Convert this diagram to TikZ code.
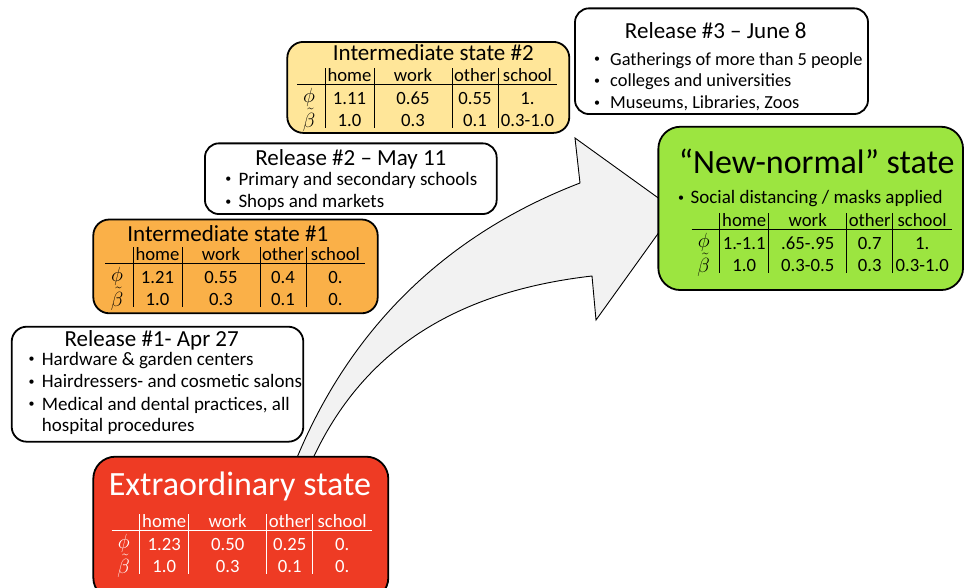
\RequirePackage{fix-cm}
\documentclass[tikz,border=0pt]{standalone}
\usepackage[no-math]{fontspec}
\setmainfont{Carlito}
\definecolor{yel}{RGB}{255,230,153}
\definecolor{org}{RGB}{250,176,72}
\definecolor{redb}{RGB}{238,59,36}
\definecolor{grn}{RGB}{156,229,64}
\definecolor{arr}{RGB}{242,242,242}
\tikzset{
  box/.style={draw=black, line width=1.8pt, inner sep=0pt, rectangle},
  ttl/.style={font=\fontsize{23}{27}\selectfont, inner sep=0pt, anchor=base},
  bigttl/.style={font=\fontsize{34}{40}\selectfont, inner sep=0pt, anchor=base},
  btxt/.style={font=\fontsize{19}{22}\selectfont, inner sep=0pt, anchor=base west},
  bdot/.style={font=\fontsize{12}{14}\selectfont, inner sep=0pt, anchor=base},
  cell/.style={font=\fontsize{18.7}{22}\selectfont, inner sep=0pt, anchor=base},
  sym/.style={font=\fontsize{20.5}{24}\selectfont, inner sep=0pt, anchor=base},
  tabrule/.style={line width=0.9pt},
  arrowshape/.style={draw=black, fill=arr, line width=0.9pt, line join=miter},
  pics/statetab/.style n args={8}{code={
    \node[cell] (-h1) at (52.5,-3) {home};
    \node[cell] (-h2) at (116,-3) {work};
    \node[cell] (-h3) at (178,-3) {other};
    \node[cell] (-h4) at (230.5,-3) {school};
    \node[sym] (-sp) at (12,18.5) {$\phi$};
    \node[sym] (-sb) at (12,43) {$\tilde\beta$};
    \node[cell] (-p1) at (52.5,20) {#1};
    \node[cell] (-p2) at (116,20) {#2};
    \node[cell] (-p3) at (178,20) {#3};
    \node[cell] (-p4) at (230.5,20) {#4};
    \node[cell] (-b1) at (52.5,42.3) {#5};
    \node[cell] (-b2) at (116,42.3) {#6};
    \node[cell] (-b3) at (178,42.3) {#7};
    \node[cell] (-b4) at (230.5,42.3) {#8};
    \draw[tabrule] (0,0) -- (260,0);
    \foreach \vx in {28,77,155,201} \draw[tabrule] (\vx,-16) -- (\vx,44);
  }}
}
\newcommand{\bul}{\raisebox{2.2pt}{•}}
\begin{document}
\begin{tikzpicture}[x=1pt,y=-1pt]
\useasboundingbox (0,0) rectangle (964,587);

% big curved arrow (behind everything)
\draw[arrowshape] (294,465) .. controls (350,325) and (450,233) .. (580,183)
  -- (575,138) -- (675,210) -- (596,320) -- (592,276)
  .. controls (470,290) and (365,340) .. (310,465) -- cycle;

% boxes
\node[box, fill=yel, rounded corners=16pt, minimum width=282pt, minimum height=91pt] (y2) at (428.3,87.4) {};
\node[box, fill=white, rounded corners=14pt, minimum width=293pt, minimum height=105.7pt] (r3) at (721.5,61.2) {};
\node[box, fill=white, rounded corners=14pt, minimum width=291.7pt, minimum height=70.7pt] (r2) at (350.8,178.7) {};
\node[box, fill=org, rounded corners=16pt, minimum width=284.4pt, minimum height=93.8pt] (i1) at (235.5,266.4) {};
\node[box, fill=white, rounded corners=15pt, minimum width=291.6pt, minimum height=115pt] (r1) at (157.5,384.2) {};
\node[box, fill=redb, rounded corners=22pt, minimum width=295pt, minimum height=143pt] (ex) at (240.8,528.2) {};
\node[box, fill=grn, rounded corners=22pt, minimum width=304.7pt, minimum height=163.3pt] (nn) at (810.7,208.4) {};

% Release #3
\node[ttl] (r3t) at (715.8,38.3) {Release \#3 – June 8};
\node[bdot] (r3d1) at (597,65) {\bul};
\node[btxt, font=\fontsize{18.4}{22}\selectfont] (r3l1) at (610,65) {Gatherings of more than 5 people};
\node[bdot] (r3d2) at (597,86.7) {\bul};
\node[btxt, font=\fontsize{18.4}{22}\selectfont] (r3l2) at (610,86.7) {colleges and universities};
\node[bdot] (r3d3) at (597,108.3) {\bul};
\node[btxt, font=\fontsize{18.4}{22}\selectfont] (r3l3) at (610,108.3) {Museums, Libraries, Zoos};

% Release #2
\node[ttl] (r2t) at (350.8,165) {Release \#2 – May 11};
\node[bdot] (r2d1) at (228.3,185) {\bul};
\node[btxt] (r2l1) at (238.3,185) {Primary and secondary schools};
\node[bdot] (r2d2) at (228.3,207.3) {\bul};
\node[btxt] (r2l2) at (238.3,207.3) {Shops and markets};

% Release #1
\node[ttl] (r1t) at (151.7,346.7) {Release \#1- Apr 27};
\node[bdot] (r1d1) at (31.7,365) {\bul};
\node[btxt] (r1l1) at (41.7,365) {Hardware \& garden centers};
\node[bdot] (r1d2) at (31.7,387.3) {\bul};
\node[btxt] (r1l2) at (41.7,387.3) {Hairdressers- and cosmetic salons};
\node[bdot] (r1d3) at (31.7,410) {\bul};
\node[btxt] (r1l3) at (41.7,410) {Medical and dental practices, all};
\node[btxt] (r1l4) at (41.7,431.7) {hospital procedures};

% Intermediate state #2
\node[ttl] (y2t) at (433.3,60.7) {Intermediate state \#2};
\pic (yt) at (297,84.3) {statetab={1.11}{0.65}{0.55}{1.}{1.0}{0.3}{0.1}{0.3-1.0}};

% Intermediate state #1
\node[ttl] (i1t) at (227.8,241.7) {Intermediate state \#1};
\pic (it) at (105,263.3) {statetab={1.21}{0.55}{0.4}{0.}{1.0}{0.3}{0.1}{0.}};

% Extraordinary state
\node[bigttl, text=white] (ext) at (240,495) {Extraordinary state};
\pic[color=white] (et) at (111.7,530) {statetab={1.23}{0.50}{0.25}{0.}{1.0}{0.3}{0.1}{0.}};

% New-normal state
\node[bigttl] (nnt) at (816.7,173.3) {“New-normal” state};
\node[bdot] (nnd) at (681,203.3) {\bul};
\node[btxt] (nnl) at (690.5,203.3) {Social distancing / masks applied};
\pic (nt) at (691.7,229) {statetab={1.-1.1}{.65-.95}{0.7}{1.}{1.0}{0.3-0.5}{0.3}{0.3-1.0}};
\end{tikzpicture}
\end{document}
